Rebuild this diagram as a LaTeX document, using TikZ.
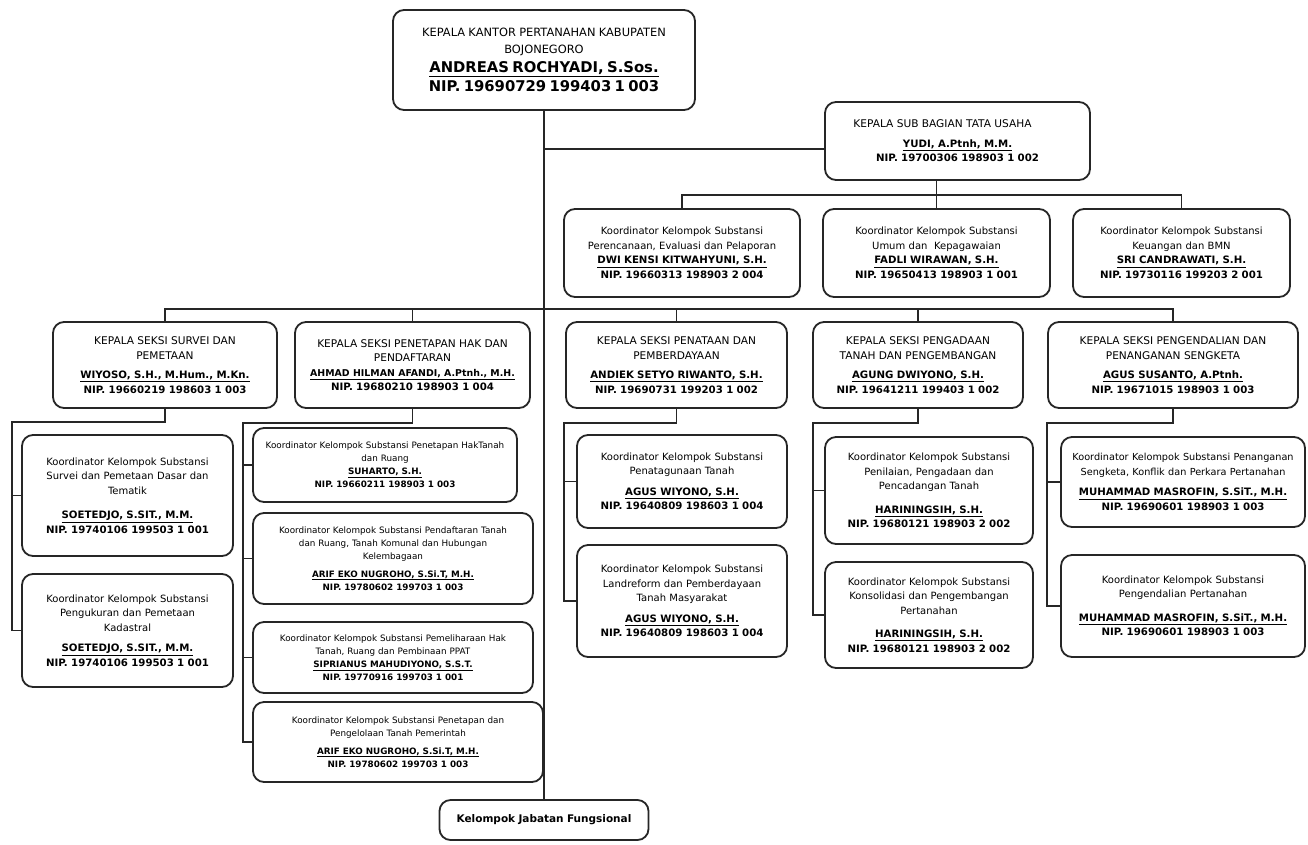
\documentclass[tikz,border=0pt]{standalone}
\usepackage{fontspec}
\setmainfont{DejaVu Sans}
\usetikzlibrary{calc}
\tikzset{
  box/.style={draw=black!85, line width=1.8pt, rounded corners=11pt, align=center,
    inner xsep=3pt, inner ysep=1pt, fill=white, font=\fontsize{10}{14.5}\selectfont},
  small/.style={font=\fontsize{8.8}{13}\selectfont},
  link/.style={draw=black!85, line width=1.5pt},
}
\newcommand\nm[1]{\underline{\textbf{#1}}}
\newcommand\nip[1]{\textbf{NIP. #1}}
\newcommand\cp{\fontsize{10.6}{14.5}\selectfont}
\newcommand\bn{\fontsize{10.2}{14.5}\selectfont}
\newcommand\bx[7][]{%
  \pgfmathsetmacro\bw{#5-#3}\pgfmathsetmacro\bh{#6-#4}\pgfmathsetmacro\tw{#5-#3-6}%
  \pgfmathsetmacro\cx{(#3+#5)/2}\pgfmathsetmacro\cy{(#4+#6)/2}%
  \node[box,minimum width=\bw pt,minimum height=\bh pt,text width=\tw pt,#1] (#2) at (\cx,\cy) {#7};}
\begin{document}
\begin{tikzpicture}[x=1pt,y=-1pt]
\fill[white] (0,0) rectangle (1308,844);
\useasboundingbox (0,0) rectangle (1308,844);

% ---------- boxes ----------
\bx{top}{393}{10}{695}{110}{{\fontsize{11.4}{16.5}\selectfont KEPALA KANTOR PERTANAHAN KABUPATEN\\ BOJONEGORO\par}\vspace{0pt}{\fontsize{14.8}{19}\selectfont\bfseries \underline{ANDREAS ROCHYADI, S.Sos.}\\ NIP. 19690729 199403 1 003\par}}
\bx{tu}{825}{102}{1090}{180}{\cp\hspace*{-30pt}KEPALA SUB BAGIAN TATA USAHA\\[5pt] {\bn\nm{YUDI, A.Ptnh, M.M.}\\ \nip{19700306 198903 1 002}}}

\bx{ka}{564}{209}{800}{297}{Koordinator Kelompok Substansi\\ Perencanaan, Evaluasi dan Pelaporan\\ {\bn\nm{DWI KENSI KITWAHYUNI, S.H.}\\ \nip{19660313 198903 2 004}}}
\bx{kb}{823}{209}{1050}{297}{Koordinator Kelompok Substansi\\ Umum dan \ Kepagawaian\\ {\bn\nm{FADLI WIRAWAN, S.H.}\\ \nip{19650413 198903 1 001}}}
\bx{kc}{1073}{209}{1290}{297}{Koordinator Kelompok Substansi\\ Keuangan dan BMN\\ {\bn\nm{SRI CANDRAWATI, S.H.}\\ \nip{19730116 199203 2 001}}}

\bx{sa}{53}{322}{277}{408}{{\cp KEPALA SEKSI SURVEI DAN\\ PEMETAAN\\[5pt]} {\bn\nm{WIYOSO, S.H., M.Hum., M.Kn.}\\ \nip{19660219 198603 1 003}}}
\bx{sb}{295}{322}{530}{408}{{\cp KEPALA SEKSI PENETAPAN HAK DAN\\ PENDAFTARAN\\} {\fontsize{9.4}{13}\selectfont\nm{AHMAD HILMAN AFANDI, A.Ptnh., M.H.}}\\ {\bn\nip{19680210 198903 1 004}}}
\bx{sc}{566}{322}{787}{408}{{\cp KEPALA SEKSI PENATAAN DAN\\ PEMBERDAYAAN\\[5pt]} {\bn\nm{ANDIEK SETYO RIWANTO, S.H.}\\ \nip{19690731 199203 1 002}}}
\bx{sd}{813}{322}{1023}{408}{{\cp KEPALA SEKSI PENGADAAN\\ TANAH DAN PENGEMBANGAN\\[5pt]} {\bn\nm{AGUNG DWIYONO, S.H.}\\ \nip{19641211 199403 1 002}}}
\bx{se}{1048}{322}{1298}{408}{{\cp KEPALA SEKSI PENGENDALIAN DAN\\ PENANGANAN SENGKETA\\[5pt]} {\bn\nm{AGUS SUSANTO, A.Ptnh.}\\ \nip{19671015 198903 1 003}}}

\bx{aa}{22}{435}{233}{556}{Koordinator Kelompok Substansi\\ Survei dan Pemetaan Dasar dan\\ Tematik\\[10pt] {\bn\nm{SOETEDJO, S.SIT., M.M.}\\ \nip{19740106 199503 1 001}}}
\bx{ab}{22}{574}{233}{687}{Koordinator Kelompok Substansi\\ Pengukuran dan Pemetaan\\ Kadastral\\[6pt] {\bn\nm{SOETEDJO, S.SIT., M.M.}\\ \nip{19740106 199503 1 001}}}

\bx[small]{ba}{253}{428}{517}{502}{Koordinator Kelompok Substansi Penetapan HakTanah\\ dan Ruang\\ {\fontsize{8.8}{13}\selectfont\nm{SUHARTO, S.H.}\\ \nip{19660211 198903 1 003}}}
\bx[small]{bb}{253}{513}{533}{604}{Koordinator Kelompok Substansi Pendaftaran Tanah\\ dan Ruang, Tanah Komunal dan Hubungan\\ Kelembagaan\\[5pt] {\fontsize{8.8}{12.5}\selectfont\nm{ARIF EKO NUGROHO, S.Si.T, M.H.}\\ \nip{19780602 199703 1 003}}}
\bx[small]{bc}{253}{622}{533}{693}{Koordinator Kelompok Substansi Pemeliharaan Hak\\ Tanah, Ruang dan Pembinaan PPAT\\ {\fontsize{8.8}{13}\selectfont\nm{SIPRIANUS MAHUDIYONO, S.S.T.}\\ \nip{19770916 199703 1 001}}}
\bx[small]{bd}{253}{702}{543}{782}{Koordinator Kelompok Substansi Penetapan dan\\ Pengelolaan Tanah Pemerintah\\[5pt] {\fontsize{8.8}{12.5}\selectfont\nm{ARIF EKO NUGROHO, S.Si.T, M.H.}\\ \nip{19780602 199703 1 003}}}

\bx{ca}{577}{435}{787}{528}{Koordinator Kelompok Substansi\\ Penatagunaan Tanah\\[6pt] {\bn\nm{AGUS WIYONO, S.H.}\\ \nip{19640809 198603 1 004}}}
\bx{cb}{577}{545}{787}{657}{Koordinator Kelompok Substansi\\ Landreform dan Pemberdayaan\\ Tanah Masyarakat\\[6pt] {\bn\nm{AGUS WIYONO, S.H.}\\ \nip{19640809 198603 1 004}}}

\bx{da}{825}{437}{1033}{544}{Koordinator Kelompok Substansi\\ Penilaian, Pengadaan dan\\ Pencadangan Tanah\\[9pt] {\bn\nm{HARININGSIH, S.H.}\\ \nip{19680121 198903 2 002}}}
\bx{db}{825}{562}{1033}{668}{Koordinator Kelompok Substansi\\ Konsolidasi dan Pengembangan\\ Pertanahan\\[9pt] {\bn\nm{HARININGSIH, S.H.}\\ \nip{19680121 198903 2 002}}}

\bx{ea}{1061}{437}{1305}{527}{{\fontsize{9.7}{14.5}\selectfont Koordinator Kelompok Substansi Penanganan\\ Sengketa, Konflik dan Perkara Pertanahan\\[6pt]} {\bn\nm{MUHAMMAD MASROFIN, S.SiT., M.H.}\\ \nip{19690601 198903 1 003}}}
\bx{eb}{1061}{555}{1305}{657}{Koordinator Kelompok Substansi\\ Pengendalian Pertanahan\\[9pt] {\bn\nm{MUHAMMAD MASROFIN, S.SiT., M.H.}\\ \nip{19690601 198903 1 003}}}

\bx{kjf}{439.5}{800}{648.5}{840}{\fontsize{10.5}{14}\selectfont\textbf{Kelompok Jabatan Fungsional}}

% ---------- connectors ----------
\coordinate (tuin) at (825,149);
\coordinate (busK) at (0,195);
\coordinate (busS) at (0,309);
\coordinate (spA) at (12,422);
\coordinate (spB) at (243,423);
\coordinate (spC) at (564,423);
\coordinate (spD) at (813,423);
\coordinate (spE) at (1047,423);

\draw[link] (top.south) -- (top.south |- kjf.north);
\draw[link] (top.south |- tuin) -- (tuin);
\draw[link] (kb.north |- tu.south) -- (kb.north);
\draw[link] (ka.north) -- (ka.north |- busK) -- (kc.north |- busK) -- (kc.north);
\draw[link] (sa.north) -- (sa.north |- busS) -- (se.north |- busS) -- (se.north);
\draw[link] (sb.north) -- (sb.north |- busS);
\draw[link] (sc.north) -- (sc.north |- busS);
\draw[link] (sd.north) -- (sd.north |- busS);

\draw[link] (sa.south) -- (sa.south |- spA) -- (spA) -- (spA |- ab.west) -- (ab.west);
\draw[link] (spA |- aa.west) -- (aa.west);

\draw[link] (sb.south) -- (sb.south |- spB) -- (spB) -- (spB |- bd.west) -- (bd.west);
\draw[link] (spB |- ba.west) -- (ba.west);
\draw[link] (spB |- bb.west) -- (bb.west);
\draw[link] (spB |- bc.west) -- (bc.west);

\draw[link] (sc.south) -- (sc.south |- spC) -- (spC) -- (spC |- cb.west) -- (cb.west);
\draw[link] (spC |- ca.west) -- (ca.west);

\draw[link] (sd.south) -- (sd.south |- spD) -- (spD) -- (spD |- db.west) -- (db.west);
\draw[link] (spD |- da.west) -- (da.west);

\draw[link] (se.south) -- (se.south |- spE) -- (spE) -- (spE |- eb.west) -- (eb.west);
\draw[link] (spE |- ea.west) -- (ea.west);
\end{tikzpicture}
\end{document}
